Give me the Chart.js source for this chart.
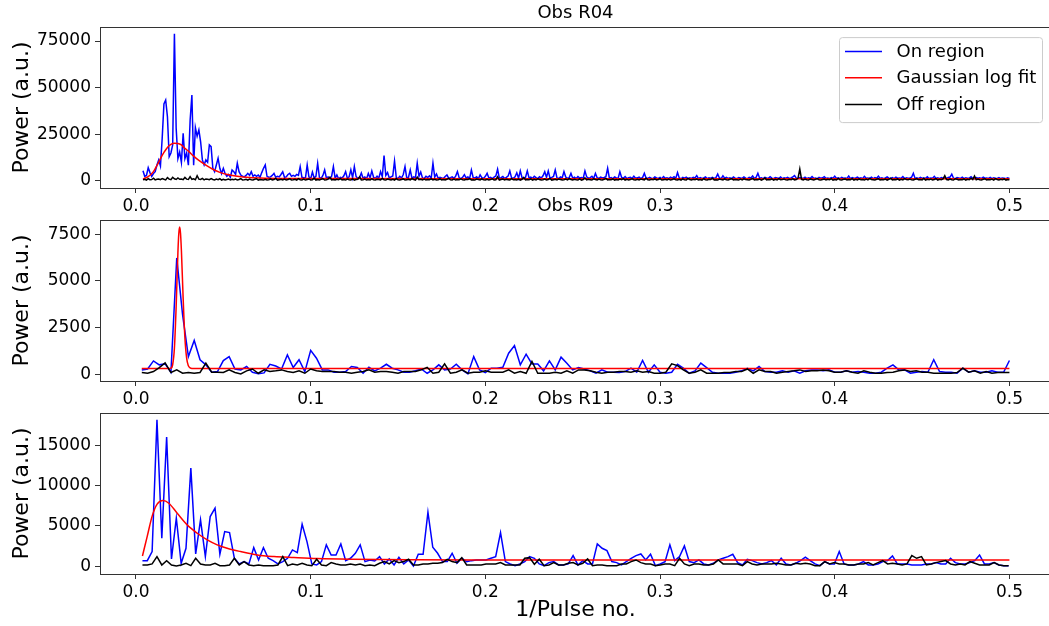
<!DOCTYPE html>
<html>
<head>
<meta charset="utf-8">
<script src="https://cdn.jsdelivr.net/npm/chart.js@4.4.0/dist/chart.umd.min.js"></script>
<style>
  html, body { margin: 0; padding: 0; background: #fff; }
  #wrap { position: relative; width: 1049px; height: 626px; overflow: hidden; }
  .panel { position: absolute; left: 0; }
</style>
</head>
<body>
<div id="wrap">
  <div class="panel" style="top:0px"><canvas id="c1" width="1053" height="218"></canvas></div>
  <div class="panel" style="top:193px"><canvas id="c2" width="1053" height="218"></canvas></div>
  <div class="panel" style="top:386px"><canvas id="c3" width="1053" height="240"></canvas></div>
</div>
<script>
// shared x axis
const xTicks = [0.0, 0.1, 0.2, 0.3, 0.4, 0.5];
const X_MIN = -0.0206, X_MAX = 0.5238;

// ---- Obs R04 (x = 0.004 + i*0.001) ----
const r04X0 = 0.004, r04Dx = 0.001;
const r04YTicks = [0, 25000, 50000, 75000];
const r04On = [
  5500,2500,3000,7100,4500,2500,4000,5000,8600,11300,
  8000,22900,41300,43400,34500,13000,15000,19300,78900,28200,
  12000,15500,10000,25600,12000,15000,8500,32700,46100,8500,
  28600,24000,27400,21000,11300,8600,11300,10000,19300,18400,
  6800,5000,8600,12200,6800,4000,6800,4000,2500,3500,
  2000,5900,5000,3500,9500,5000,3200,2500,2200,3000,
  4100,3000,5000,2500,3200,2500,3200,2000,4500,6800,
  8600,2500,2000,2200,3000,4100,2000,2500,2200,3500,
  5000,2000,2200,3500,4100,2500,3000,2500,3500,3000,
  7700,2000,1800,1500,8600,2200,1200,4800,1600,2500,
  9500,2000,1400,3000,5900,1600,2200,1300,2600,7700,
  1500,3200,1200,2000,1600,2800,5000,1400,2200,6000,
  1800,7700,2400,1300,1900,4300,1500,2200,1200,4000,
  1700,5400,2000,1400,2600,1500,5000,2300,13600,3000,
  4500,1600,2200,2700,10700,1800,1300,2500,1600,3500,
  7700,1500,2000,5900,1400,2200,1800,9500,2500,4800,
  1600,1300,2500,1900,2800,1500,9500,2100,3800,1400,
  2000,1600,1300,2400,3200,1500,1800,2200,1400,2600,
  5000,1700,1300,2000,3400,1600,2200,1400,5900,1900,
  1500,2300,1200,3300,1800,1400,2500,4100,1600,2000,
  1300,2100,2700,6300,1500,1800,2400,1300,1900,2600,
  5400,1700,1400,2200,4400,1500,5400,1800,1300,2000,
  5400,1600,2100,1400,2500,1800,1300,2300,1600,2800,
  5000,2000,5400,1500,1900,2400,5900,1600,1300,2200,
  1700,5000,2100,1400,1800,4100,1500,2000,1300,2400,
  1600,1900,1400,5400,2200,1500,1800,2500,1300,4100,
  1700,1400,2100,1600,1900,2300,6800,1500,1800,1300,
  2200,1600,1400,5000,1900,1500,2400,1300,1800,2000,
  1400,2600,1500,1700,2100,1300,1900,4100,1600,1400,
  2000,1500,1300,2200,1600,1400,1900,1200,2400,1500,
  1700,1300,2000,1500,2300,1400,4500,1600,1200,1900,
  1500,2100,1300,1700,1400,2000,1600,2900,1300,1800,
  1400,1600,2200,1300,1700,1500,2000,1400,1800,3700,
  1600,1300,2800,1500,1900,1400,1700,1200,2100,1500,
  1300,1800,1600,1400,2200,1500,1300,1900,1600,2700,
  1400,2000,4100,1500,1700,1300,1900,1600,1400,2300,
  1500,1200,1800,1600,1400,2100,1300,1700,1500,1900,
  1400,1600,2200,2900,1500,1300,1800,1600,1400,2000,
  1300,1700,1500,2400,1400,1600,1200,1900,1500,1700,
  2300,1400,1600,1300,1800,1500,2600,1400,1700,1300,
  1900,1500,1600,1400,2700,1300,1800,1500,1600,2100,
  1400,1700,1300,2500,1500,1600,1400,2000,1300,1800,
  1500,2600,1400,1700,1300,1600,2200,1500,1400,1800,
  1300,2000,1500,1600,1400,2400,1300,1700,1500,1600,
  2000,4100,1400,1700,1300,1900,1500,1600,1400,2200,
  1300,1600,1500,2500,1400,1700,1300,1800,1500,1600,
  1400,1900,2100,3700,1500,1300,1800,1600,1400,2000,
  1300,1700,1500,1600,2300,1400,1200,1800,1500,1700,
  1300,2100,1500,1600,1400,1900,1300,1700,1500,1400,
  1800,1300,1600,1500,1200,1700,1400
];
const r04Off = [
  600,900,500,1200,700,800,1500,600,900,1100,
  700,1300,900,600,1800,1000,700,2000,1200,800,
  1600,900,1100,700,1900,1000,800,2300,900,1200,
  700,2800,1000,800,1400,600,1100,900,700,1300,
  800,600,1000,700,1200,500,900,600,800,1100,
  600,900,700,1000,500,800,1300,600,700,900,
  500,1000,700,600,900,1200,500,800,700,600,
  900,500,700,1100,600,800,1400,500,700,900,
  600,1000,500,800,1200,600,700,900,500,1300,
  700,600,1000,500,800,1100,600,700,1500,500,
  800,600,900,1200,500,700,1000,2000,600,800,
  500,900,700,1300,600,800,500,1000,700,600,
  1100,500,800,900,2200,600,700,1000,500,800,
  600,1200,700,500,900,800,600,1400,700,500,
  1000,800,600,900,500,1200,700,600,800,1100,
  500,700,900,600,1300,800,500,2100,700,900,
  600,1000,500,800,700,1200,600,900,500,700,
  1100,600,800,500,900,1400,700,600,1000,500,
  800,700,1200,600,500,900,800,1300,600,700,
  500,1000,800,600,1100,700,500,900,600,800,
  1200,600,700,2300,500,800,1000,600,900,700,
  500,1300,700,800,600,1000,500,900,1900,600,
  800,700,1100,500,900,600,1200,800,500,700,
  1000,600,800,1400,500,700,900,600,1100,800,
  500,700,1000,600,1300,800,500,900,700,600,
  1100,500,800,1700,600,900,700,500,1200,800,
  600,1000,700,500,900,1400,600,800,700,1100,
  500,800,600,1000,700,1300,500,900,600,800,
  1200,700,500,900,600,1000,800,600,1500,700,
  500,900,700,1100,600,800,1300,500,700,900,
  600,1000,500,800,1200,700,600,900,500,1100,
  700,600,1400,800,500,900,700,1000,600,800,
  500,1200,700,600,900,800,1500,600,700,500,
  1000,800,600,1100,700,500,900,1300,600,800,
  700,500,1000,600,1200,800,700,500,900,1400,
  600,800,700,1000,500,900,1600,600,800,700,
  1100,500,900,600,1300,700,800,1000,600,500,
  900,700,1200,600,800,1500,6400,900,600,1000,
  700,500,1100,800,600,900,1300,700,500,800,
  1000,600,900,700,1200,500,800,600,1400,700,
  500,900,1000,600,800,700,1300,500,900,600,
  1100,700,800,500,1000,600,1400,800,700,500,
  900,1200,600,800,700,1000,500,900,1500,600,
  800,700,1100,500,900,600,1300,800,700,1000,
  600,500,900,1200,700,800,600,1400,500,900,
  700,1000,600,800,1300,500,900,700,1100,2800,
  800,600,1000,700,500,1200,900,600,800,700,
  1100,500,900,700,1500,800,2700,600,1000,700,
  500,900,1200,600,800,700,1000,500,1300,800,
  600,900,700,1100,500,800,700
];
const r04FitX = [0.004,0.007,0.010,0.012,0.014,0.016,0.018,0.020,0.022,0.024,0.026,0.028,0.030,0.033,0.036,0.040,0.044,0.048,0.053,0.058,0.065,0.075,0.09,0.12,0.2,0.5];
const r04FitY = [1100,2400,5000,8300,12000,15300,18000,19600,20200,20100,19300,17500,16000,13300,11000,8500,6300,4600,3300,2500,1850,1500,1330,1270,1250,1250];

// ---- Obs R09 (x = k/300) ----
const r09X0 = 1 / 300, r09Dx = 1 / 300;
const r09YTicks = [0, 2500, 5000, 7500];
const r09On = [
  250,300,730,520,570,125,6230,3200,960,1820,
  790,520,125,160,750,960,300,250,430,125,
  50,90,550,460,300,1050,375,790,160,1290,
  875,250,250,125,125,160,430,375,70,390,
  200,340,550,340,250,125,125,200,300,70,
  250,520,250,300,550,250,35,960,250,110,
  340,340,390,1140,1550,520,1090,570,570,200,
  730,250,930,610,250,375,300,200,70,250,
  125,125,110,160,340,125,750,125,520,125,
  70,125,550,340,70,200,610,375,125,70,
  70,70,125,200,340,200,430,160,125,125,
  200,125,200,70,200,250,250,200,250,125,
  125,200,125,160,125,70,70,125,340,520,
  250,250,70,125,160,125,790,160,125,125,
  70,340,125,200,125,125,200,125,125,750
];
const r09Off = [
  110,70,160,375,625,110,250,70,110,70,
  110,610,125,125,110,250,110,35,200,300,
  70,250,160,200,250,160,110,200,70,300,
  200,160,160,160,125,125,70,125,160,250,
  125,160,160,125,70,160,160,160,250,390,
  70,125,570,70,125,250,70,125,125,200,
  125,125,125,250,70,160,70,700,70,70,
  70,125,70,200,70,250,250,200,125,70,
  125,125,160,160,125,200,125,160,70,70,
  125,570,480,250,70,125,250,70,70,70,
  110,110,160,160,300,70,250,160,160,70,
  125,160,200,250,160,200,200,250,200,125,
  125,200,125,70,200,125,70,70,110,125,
  200,250,160,200,125,125,70,70,70,70,
  110,340,125,200,70,160,70,110,110,110
];
const r09FitX = [0.0033,0.019,0.020,0.021,0.022,0.023,0.024,0.0245,0.025,0.0255,0.026,0.027,0.028,0.029,0.030,0.031,0.032,0.5];
const r09FitY = [321,321,341,525,1416,3640,6524,7522,7876,7536,6622,4070,1975,880,469,353,327,321];

// ---- Obs R11 (x = 0.0037 + i*0.00277) ----
const r11X0 = 0.0037, r11Dx = 0.00277;
const r11YTicks = [0, 5000, 10000, 15000];
const r11On = [
  700,700,1820,18140,3470,16000,910,5950,370,2230,
  12150,1530,5750,1200,6160,7190,1490,4300,4170,990,
  290,580,290,2310,785,2310,990,700,290,580,
  990,2030,1700,5210,3060,290,165,580,2650,1400,
  1400,2770,700,990,1610,2650,580,785,660,1200,
  290,910,165,1120,290,785,40,1490,1490,6700,
  2360,1610,580,580,1610,370,990,580,700,785,
  785,785,990,1200,4170,580,290,80,290,580,
  1200,990,290,80,455,580,165,165,290,1320,
  165,700,290,290,2770,2230,1940,580,455,165,
  580,990,1320,1530,785,1490,80,290,580,2650,
  700,1200,2520,580,455,785,290,165,370,785,
  990,1200,1490,455,165,870,700,455,290,455,
  700,165,990,290,165,370,700,1120,700,290,
  80,580,290,290,1820,290,165,165,290,580,
  165,165,290,580,700,1280,290,290,290,165,
  165,165,290,290,455,290,290,990,455,290,
  290,455,700,1400,290,290,455,165,80,80
];
const r11Off = [
  165,165,290,1200,165,700,165,40,165,370,
  80,990,290,165,165,370,80,80,165,990,
  165,580,165,80,165,80,80,80,165,1200,
  80,290,165,370,165,80,870,165,80,455,
  290,165,165,290,165,290,80,165,80,370,
  580,290,700,455,580,870,165,165,290,290,
  370,370,455,870,580,455,1070,165,165,165,
  165,290,290,290,455,165,165,165,165,990,
  1070,250,870,80,165,455,165,165,370,455,
  165,370,910,80,165,165,80,80,80,290,
  290,580,785,455,290,290,80,165,290,290,
  80,990,290,80,290,290,165,165,290,785,
  290,290,290,290,80,580,290,165,290,290,
  290,370,290,165,165,370,290,370,290,80,
  80,580,290,455,290,290,165,165,290,290,
  455,165,455,700,290,370,290,165,290,1320,
  990,1200,165,290,455,580,700,290,165,290,
  165,580,370,165,165,165,455,165,80,80
];
const r11FitX = [0.0037,0.0064,0.0093,0.0121,0.0154,0.0188,0.0236,0.0293,0.0351,0.0408,0.0465,0.0522,0.0599,0.0694,0.0790,0.0904,0.1038,0.1229,0.16,0.2,0.5];
const r11FitY = [1280,3680,6240,7690,8140,7810,6570,5125,4090,3265,2650,2230,1820,1400,1200,1075,950,870,810,790,785];

Chart.defaults.font.family = "'DejaVu Sans', sans-serif";
Chart.defaults.color = "#000";

function seriesPoints(x0, dx, ys) {
  return ys.map((y, i) => ({ x: x0 + i * dx, y }));
}
function zipXY(xs, ys) {
  return xs.map((x, i) => ({ x, y: ys[i] }));
}

const framePlugin = {
  id: "frame",
  afterDraw(chart) {
    const { ctx, chartArea: a } = chart;
    ctx.save();
    ctx.strokeStyle = "#333";
    ctx.lineWidth = 1;
    ctx.strokeRect(Math.round(a.left) + 0.5, Math.round(a.top) + 0.5, Math.round(a.right - a.left), Math.round(a.bottom - a.top));
    ctx.restore();
  }
};

// matplotlib-like legend box in the upper right corner
const boxLegend = {
  id: "boxLegend",
  afterDraw(chart, args, opts) {
    if (!opts.show) return;
    const { ctx, chartArea: a } = chart;
    const w = 203, h = 85;
    const left = a.right - 9 - w, top = a.top + 10;
    ctx.save();
    ctx.fillStyle = "rgba(255,255,255,0.8)";
    ctx.strokeStyle = "#cccccc";
    ctx.lineWidth = 1;
    ctx.beginPath();
    ctx.roundRect(left + 0.5, top + 0.5, w, h, 3);
    ctx.fill();
    ctx.stroke();
    const rows = [14.5, 40.7, 67.3];
    chart.data.datasets.forEach((ds, i) => {
      const y = top + rows[i];
      ctx.strokeStyle = ds.borderColor;
      ctx.lineWidth = 1.5;
      ctx.beginPath();
      ctx.moveTo(left + 6, y);
      ctx.lineTo(left + 43, y);
      ctx.stroke();
      ctx.fillStyle = "#000";
      ctx.font = "18px 'DejaVu Sans', sans-serif";
      ctx.textBaseline = "middle";
      ctx.fillText(ds.label, left + 57.5, y + 1);
    });
    ctx.restore();
  }
};

function makePanel(id, p) {
  const datasets = [
    { label: "On region", data: seriesPoints(p.x0, p.dx, p.on), borderColor: "#0000ff", order: 3 },
    { label: "Gaussian log fit", data: zipXY(p.fitX, p.fitY), borderColor: "#ff0000", order: 2, cubicInterpolationMode: "monotone" },
    { label: "Off region", data: seriesPoints(p.x0, p.dx, p.off), borderColor: "#000000", order: 1 }
  ];
  datasets.forEach(d => { d.showLine = true; d.pointRadius = 0; d.borderWidth = 1.5; d.fill = false; });

  return new Chart(document.getElementById(id), {
    type: "scatter",
    data: { datasets },
    plugins: [framePlugin, boxLegend],
    options: {
      responsive: false,
      animation: false,
      events: [],
      layout: { padding: { left: 0, right: 2, top: 0, bottom: 0 } },
      plugins: {
        legend: { display: false },
        tooltip: { enabled: false },
        title: {
          display: true, text: p.title, fullSize: false,
          font: { size: 18, weight: "normal" }, color: "#000",
          padding: { top: 3, bottom: 2.5 }
        },
        boxLegend: { show: !!p.legend }
      },
      scales: {
        x: {
          type: "linear", min: X_MIN, max: X_MAX,
          afterBuildTicks: s => { s.ticks = xTicks.map(v => ({ value: v })); },
          afterFit: s => { s.height = p.xh; },
          ticks: { font: { size: 17 }, color: "#000", padding: 3, maxRotation: 0, autoSkip: false, callback: v => v.toFixed(1) },
          grid: { drawOnChartArea: false, drawTicks: true, tickLength: 5, color: "#333" },
          border: { display: false },
          title: p.xTitle
            ? { display: true, text: p.xTitle, font: { size: 22 }, color: "#000", padding: { top: 0, bottom: 3 } }
            : { display: false }
        },
        y: {
          type: "linear", min: p.yMin, max: p.yMax,
          afterBuildTicks: s => { s.ticks = p.yTicks.map(v => ({ value: v })); },
          afterFit: s => { s.width = 100; },
          ticks: { font: { size: 17 }, color: "#000", padding: 4, callback: v => String(v) },
          grid: { drawOnChartArea: false, drawTicks: true, tickLength: 5, color: "#333" },
          border: { display: false },
          title: { display: true, text: "Power (a.u.)", font: { size: 22 }, color: "#000", padding: { top: 9, bottom: 0 } }
        }
      }
    }
  });
}

makePanel("c1", {
  title: "Obs R04", legend: true, xh: 30,
  x0: r04X0, dx: r04Dx, on: r04On, off: r04Off, fitX: r04FitX, fitY: r04FitY,
  yMin: -3755, yMax: 82460, yTicks: r04YTicks
});
makePanel("c2", {
  title: "Obs R09", xh: 30,
  x0: r09X0, dx: r09Dx, on: r09On, off: r09Off, fitX: r09FitX, fitY: r09FitY,
  yMin: -343, yMax: 8250, yTicks: r09YTicks
});
makePanel("c3", {
  title: "Obs R11", xh: 52, xTitle: "1/Pulse no.",
  x0: r11X0, dx: r11Dx, on: r11On, off: r11Off, fitX: r11FitX, fitY: r11FitY,
  yMin: -955, yMax: 18968, yTicks: r11YTicks
});
</script>
</body>
</html>
